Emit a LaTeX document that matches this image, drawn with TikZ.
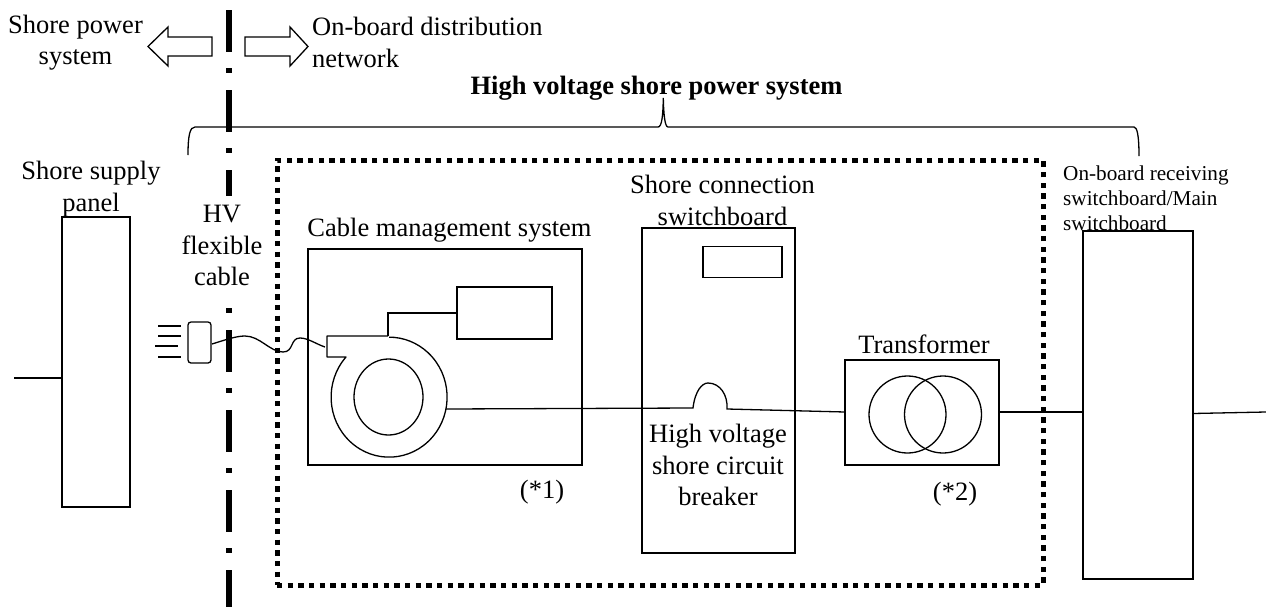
\documentclass[tikz,border=0pt]{standalone}
\usepackage{fontspec}
\setmainfont{Liberation Serif}
\usetikzlibrary{shapes.geometric}
\begin{document}
\begin{tikzpicture}[x=1pt,y=-1pt]
	\tikzstyle{unit}=[draw,line width=1.3pt,inner sep=0pt,outer sep=0pt]
	\tikzstyle{wire}=[line width=1.3pt]
	\tikzstyle{label}=[inner sep=0pt,align=center,font=\fontsize{26.5}{31.3}\selectfont]
	\tikzstyle{smalllabel}=[inner sep=0pt,align=left,font=\fontsize{21.2}{25}\selectfont]
	\useasboundingbox (0,0) rectangle (1266,608);
	% boundary and dotted frame
	\coordinate (limit_a) at (229,10);
	\coordinate (limit_b) at (229,607);
	\draw[line width=5.5pt,dash pattern=on 42pt off 16pt on 5pt off 17pt] (limit_a) -- (limit_b);
	\node[draw,line width=5pt,dash pattern=on 5.3pt off 5.37pt,inner sep=0pt,minimum width=766pt,minimum height=425pt] (frame) at (660,372.5) {};
	% boxes
	\node[unit,minimum width=68pt,minimum height=290pt] (panel) at (96,362) {};
	\node[unit,minimum width=274pt,minimum height=216pt] (cms) at (445,357) {};
	\node[unit,minimum width=95pt,minimum height=52pt] (control) at (504.5,313) {};
	\node[unit,minimum width=153pt,minimum height=325pt] (board) at (718.5,390.5) {};
	\node[unit,minimum width=79pt,minimum height=31pt] (meter) at (742.5,262) {};
	\node[unit,minimum width=154pt,minimum height=105pt] (trafo) at (922,412.5) {};
	\node[unit,minimum width=110pt,minimum height=348pt] (main) at (1138,405) {};
	\node[unit,circle,minimum size=77pt] (coil_a) at (907.5,414.5) {};
	\node[unit,circle,minimum size=77pt] (coil_b) at (943,414.5) {};
	% cable reel
	\coordinate (spout) at (388,336);
	\draw[wire,line join=round] (spout) -- (327,336) -- (327,357) -- (346,357) arc[start angle=138,end angle=450,x radius=58,y radius=-60];
	\node[unit,ellipse,minimum width=69pt,minimum height=76pt] (drum) at (388.5,397) {};
	\draw[wire] (spout) -- (388,313) -- (control.west |- 388,313);
	% plug
	\draw[wire,rounded corners=3pt] (188,322) -- (211,322) -- (211,363) -- (188,363) -- cycle;
	\foreach \y/\a/\b in {326/158/181,336/158/181,346/155/178,357/158/181}{
		\draw[wire] (\a,\y) -- (\b,\y);
	}
	\draw[wire] (212,344) .. controls (225,340) and (236,336) .. (245,336) .. controls (260,336) and (270,352) .. (283,352) .. controls (294,352) and (290,338) .. (300,338) .. controls (308,338) and (316,344) .. (325,347);
	% wires
	\coordinate (reel_out) at (446,409);
	\coordinate (hump_a) at (693,408);
	\coordinate (hump_b) at (727,409);
	\draw[wire] (panel.west |- 0,378) -- (14,378);
	\draw[wire] (reel_out) -- (hump_a) .. controls (695,391) and (702,383) .. (708,383) .. controls (720,383) and (728,395) .. (hump_b) -- (trafo.west |- 0,412);
	\draw[wire] (trafo.east |- 0,412) -- (main.west |- 0,412);
	\draw[wire] (main.east |- 0,413.5) -- (1266,412);
	% block arrows
	\draw[wire,line join=miter] (212,37) -- (168,37) -- (168,27) -- (148,46.5) -- (168,66) -- (168,56) -- (212,56) -- cycle;
	\draw[wire,line join=miter] (245,37) -- (290,37) -- (290,27) -- (308,46.5) -- (290,66) -- (290,56) -- (245,56) -- cycle;
	% brace
	\draw[wire] (188,155) .. controls (188,135) and (190,127) .. (195,127) -- (658,127) .. controls (662,127) and (663,115) .. (663.3,98) .. controls (663.6,115) and (665,127) .. (668,127) -- (1134,127) .. controls (1137,127) and (1139,135) .. (1139,156);
	% texts
	\node[label] (t_shore) at (75.5,42.5) {Shore power\\system};
	\node[label,anchor=west,align=left] (t_board) at (312,42.5) {On-board distribution\\network};
	\node[label,font=\fontsize{26.5}{31.3}\selectfont\bfseries] (t_hv) at (656.5,88.5) {High voltage shore power system};
	\node[label] (t_panel) at (91,189) {Shore supply\\panel};
	\node[label,fill=white,minimum width=80pt,minimum height=100pt] (t_cable) at (222,245.5) {HV\\flexible\\cable};
	\node[label] (t_cms) at (449.5,230) {Cable management system};
	\node[label] (t_board2) at (722.5,200.5) {Shore connection\\switchboard};
	\node[label] (t_trafo) at (924,344) {Transformer};
	\node[label] (t_breaker) at (718,465) {High voltage\\shore circuit\\breaker};
	\node[label] (t_one) at (542,492) {(*1)};
	\node[label] (t_two) at (955,494.5) {(*2)};
	\node[smalllabel,anchor=west] (t_main) at (1063,198) {On-board receiving\\switchboard/Main\\switchboard};
\end{tikzpicture}
\end{document}
